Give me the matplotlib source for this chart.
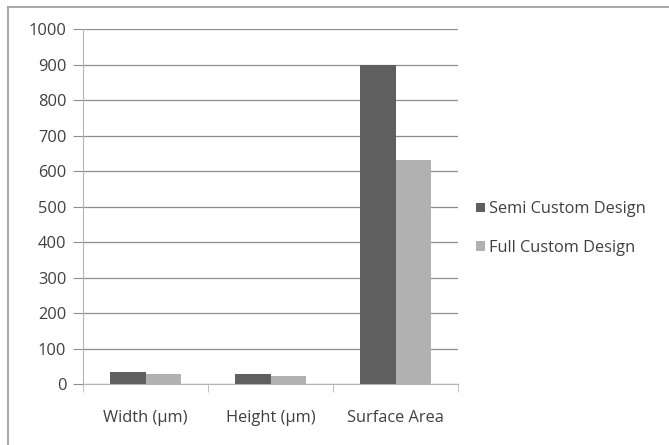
import numpy as np
import matplotlib.pyplot as plt
from matplotlib.lines import Line2D

# ---- data ----
categories = ["Width (\u00b5m)", "Height (\u00b5m)", "Surface Area"]
semi_custom = [35, 28, 900]
full_custom = [28, 22, 632]
series_names = ["Semi Custom Design", "Full Custom Design"]
y_ticks = [0, 100, 200, 300, 400, 500, 600, 700, 800, 900, 1000]

# ---- style ----
SEMI_CLR = "#5f5f5f"
FULL_CLR = "#b1b1b1"
TXT_CLR = "#404040"
GRID_CLR = "#8e8e8e"
AXIS_CLR = "#b5b5b5"
plt.rcParams["font.family"] = ["Open Sans", "DejaVu Sans"]
FS = 11.8

fig = plt.figure(figsize=(6.69, 4.45), dpi=100)
fig.patch.set_facecolor("white")
ax = fig.add_axes([0.124, 0.137, 0.561, 0.797])

x = np.arange(len(categories))
w = 1 / 3.5  # gap width 150%
ax.bar(x - w / 2, semi_custom, width=w, color=SEMI_CLR, label=series_names[0], zorder=3)
ax.bar(x + w / 2, full_custom, width=w, color=FULL_CLR, label=series_names[1], zorder=3)

ax.set_xlim(-0.5, len(categories) - 0.5)
ax.set_ylim(0, 1000)
ax.set_yticks(y_ticks)
ax.set_yticklabels([str(v) for v in y_ticks], fontsize=FS, color=TXT_CLR)
ax.set_xticks(x)
ax.set_xticklabels(categories, fontsize=FS, color=TXT_CLR)
ax.set_xticks(np.arange(len(categories) + 1) - 0.5, minor=True)
ax.tick_params(axis="x", which="major", length=0, pad=19)
ax.tick_params(axis="x", which="minor", length=6, color=AXIS_CLR, direction="out")
ax.tick_params(axis="y", length=7, color=GRID_CLR, pad=5)

ax.grid(axis="y", color=GRID_CLR, linewidth=0.9, zorder=0)
for side in ["top", "right"]:
    ax.spines[side].set_visible(False)
ax.spines["left"].set_color(AXIS_CLR)
ax.spines["bottom"].set_color(AXIS_CLR)
ax.spines["bottom"].set_zorder(4)

fig.legend(loc="center left", bbox_to_anchor=(0.712, 0.486), frameon=False,
           borderpad=0, borderaxespad=0,
           fontsize=FS, labelcolor=TXT_CLR, handlelength=0.55, handleheight=0.55,
           handletextpad=0.25, labelspacing=1.4)

# outer chart frame
fx, fy = 8 / 669, 1 - 7 / 445
fig.add_artist(Line2D([fx, fx], [0, fy], color="#9a9a9a", linewidth=1.2))
fig.add_artist(Line2D([fx, 1], [fy, fy], color="#9a9a9a", linewidth=1.2))

fig.savefig("out.png", dpi=100, facecolor="white")
